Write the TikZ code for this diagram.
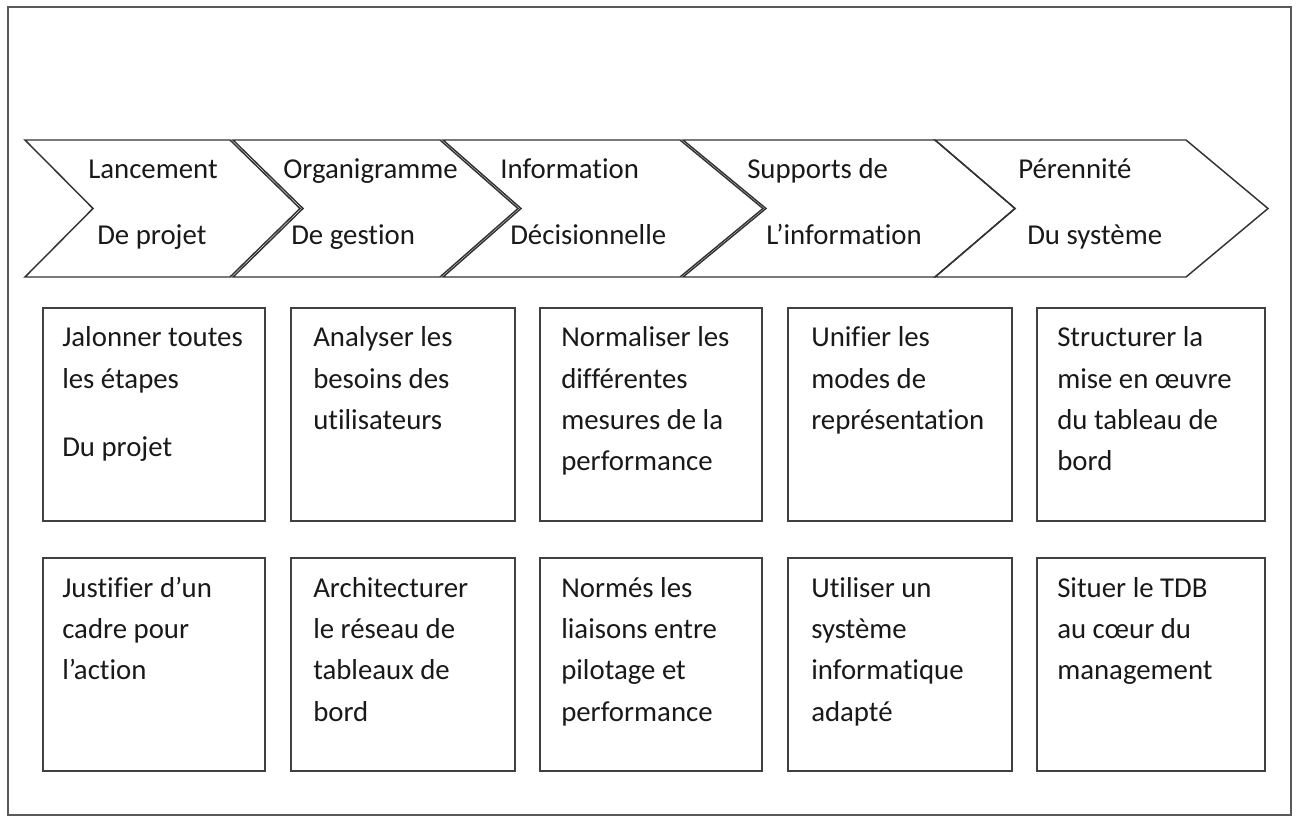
\documentclass[tikz,border=0pt]{standalone}
\usepackage{fontspec}
\setmainfont{Carlito}[Ligatures={TeX,NoCommon}]
\tikzset{
  frame/.style={draw=black!65, line width=1.5pt},
  chev/.style={draw=black!80, line width=1.1pt, line join=miter},
  cell/.style={draw=black!75, line width=1.5pt},
  lab/.style={anchor=base west, inner sep=0pt, text=black!90, font=\fontsize{21.6}{26}\selectfont},
  txt/.style={anchor=base west, inner sep=0pt, align=flush left, text width=165pt,
    text=black!90, font=\fontsize{21.6}{31}\selectfont}
}
\begin{document}
\begin{tikzpicture}[x=0.75pt, y=-0.75pt]
\useasboundingbox (0,0) rectangle (1296,816);
\draw[frame] (8,7) rectangle (1291,815);
% chevrons
\draw[chev] (25,140) -- (230,140) -- (300,208.5) -- (230,277) -- (25,277) -- (93,208.5) -- cycle;
\draw[chev] (233,140) -- (440,140) -- (518,208.5) -- (440,277) -- (233,277) -- (303,208.5) -- cycle;
\draw[chev] (443,140) -- (680,140) -- (763,208.5) -- (680,277) -- (443,277) -- (521,208.5) -- cycle;
\draw[chev] (683,140) -- (935,140) -- (1015,208.5) -- (935,277) -- (683,277) -- (766,208.5) -- cycle;
\draw[chev] (935,140) -- (1186,140) -- (1268,208.5) -- (1186,277) -- (935,277) -- (1015,208.5) -- cycle;
\node[lab] (lanc) at (88,179) {Lancement};
\node[lab] (lancb) at (97,245) {De projet};
\node[lab] (orga) at (283,179) {Organigramme};
\node[lab] (orgab) at (291,245) {De gestion};
\node[lab] (info) at (500,179) {Information};
\node[lab] (infob) at (510,245) {Décisionnelle};
\node[lab] (supp) at (747,179) {Supports de};
\node[lab] (suppb) at (766,245) {L’information};
\node[lab] (pere) at (1018,179) {Pérennité};
\node[lab] (pereb) at (1027,245) {Du système};
% first row
\draw[cell] (43,308) rectangle (265,521);
\draw[cell] (291,308) rectangle (515,521);
\draw[cell] (540,308) rectangle (762,521);
\draw[cell] (788,308) rectangle (1012,521);
\draw[cell] (1037,308) rectangle (1265,521);
\node[txt] (jal) at (62,347) {Jalonner toutes\\ les étapes\\[20pt] Du projet};
\node[txt] (ana) at (313,347) {Analyser les\\ besoins des\\ utilisateurs};
\node[txt] (nor) at (561,347) {Normaliser les\\ différentes\\ mesures de la\\ performance};
\node[txt] (uni) at (811,347) {Unifier les\\ modes de\\ représentation};
\node[txt] (str) at (1057,347) {Structurer la\\ mise en œuvre\\ du tableau de\\ bord};
% second row
\draw[cell] (43,558) rectangle (265,771);
\draw[cell] (291,558) rectangle (515,771);
\draw[cell] (540,558) rectangle (762,771);
\draw[cell] (788,558) rectangle (1012,771);
\draw[cell] (1037,558) rectangle (1265,771);
\node[txt] (jus) at (62,597) {Justifier d’un\\ cadre pour\\ l’action};
\node[txt] (arc) at (313,597) {Architecturer\\ le réseau de\\ tableaux de\\ bord};
\node[txt] (nrm) at (561,597) {Normés les\\ liaisons entre\\ pilotage et\\ performance};
\node[txt] (uti) at (811,597) {Utiliser un\\ système\\ informatique\\ adapté};
\node[txt] (sit) at (1057,597) {Situer le TDB\\ au cœur du\\ management};
\end{tikzpicture}
\end{document}
